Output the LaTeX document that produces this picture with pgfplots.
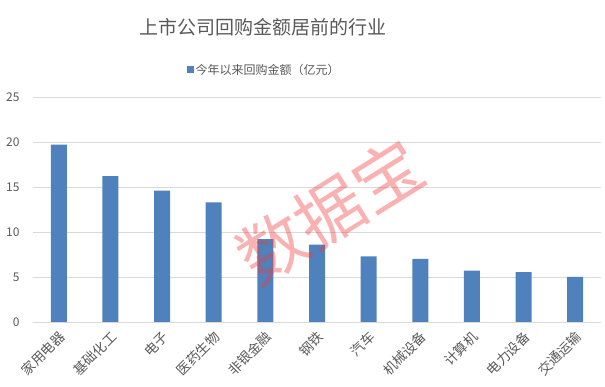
\documentclass[border=0pt]{standalone}
\usepackage{fontspec}
\setmainfont{Noto Sans CJK SC}
\usepackage{pgfplots}
\pgfplotsset{compat=1.18}
\definecolor{barblue}{HTML}{4F81BD}
\definecolor{txt}{HTML}{595959}
\definecolor{gridc}{HTML}{D9D9D9}
\definecolor{wm}{HTML}{F03C3C}
\begin{document}
\begin{tikzpicture}[x=1pt,y=1pt]
\path[use as bounding box] (0,0) rectangle (605,387);
\begin{axis}[
  at={(33pt,65pt)}, anchor=south west,
  scale only axis, width=568pt, height=225pt,
  xmin=-0.5, xmax=10.5, ymin=0, ymax=25,
  ytick={0,5,10,15,20,25},
  xtick={0,1,2,3,4,5,6,7,8,9,10},
  xticklabels={家用电器,基础化工,电子,医药生物,非银金融,钢铁,汽车,机械设备,计算机,电力设备,交通运输},
  ymajorgrids, grid style={draw=gridc, line width=0.9pt},
  axis line style={draw=none},
  major tick length=0pt,
  /pgf/number format/assume math mode=true,
  yticklabel style={font=\fontsize{12}{12}\selectfont, text=txt, xshift=-10pt},
  xticklabel style={xshift=6pt, yshift=-10pt, font=\fontsize{13.5}{13.5}\selectfont, text=txt, rotate=45, anchor=east},
  legend style={at={(0.407,1.12)}, anchor=center, draw=none, fill=none, font=\fontsize{12}{12}\selectfont, text=txt, inner sep=0pt},
  legend cell align=left,
]
\addplot[ybar, bar width=16pt, fill=barblue, draw=none,
  legend image code/.code={\fill[barblue] (0pt,-3.5pt) rectangle (7pt,3.5pt);}]
  coordinates {(0,19.7) (1,16.2) (2,14.6) (3,13.3) (4,9.2) (5,8.6) (6,7.3) (7,7.0) (8,5.7) (9,5.55) (10,5.0)};
\addlegendentry{今年以来回购金额（亿元）}
\end{axis}
\node[text=txt, font=\fontsize{19}{19}\selectfont] at (263,360) {上市公司回购金额居前的行业};
\node[rotate=32, text=wm, opacity=0.4, font=\fontsize{68}{68}\selectfont] at (330,176) {数据宝};
\end{tikzpicture}
\end{document}
